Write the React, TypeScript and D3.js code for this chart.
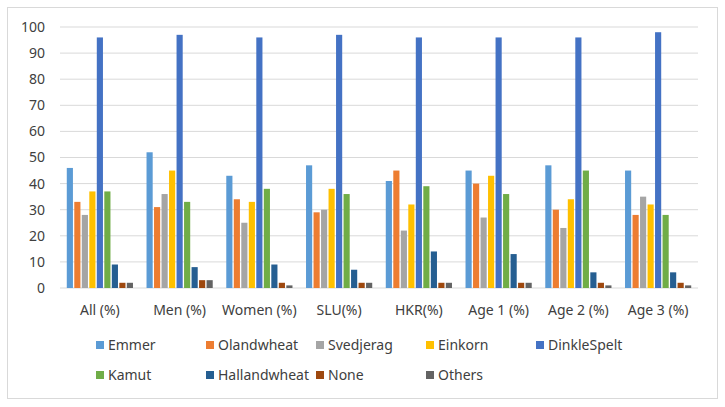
import React from "react";
import * as d3 from "d3";

const categories = ["All (%)", "Men (%)", "Women (%)", "SLU(%)", "HKR(%)", "Age 1 (%)", "Age 2 (%)", "Age 3 (%)"];
const seriesNames = ["Emmer", "Olandwheat", "Svedjerag", "Einkorn", "DinkleSpelt", "Kamut", "Hallandwheat", "None", "Others"];
const seriesColors = ["#5B9BD5", "#ED7D31", "#A5A5A5", "#FFC000", "#4472C4", "#70AD47", "#255E91", "#9E480E", "#636363"];

const emmer = [46, 52, 43, 47, 41, 45, 47, 45];
const olandwheat = [33, 31, 34, 29, 45, 40, 30, 28];
const svedjerag = [28, 36, 25, 30, 22, 27, 23, 35];
const einkorn = [37, 45, 33, 38, 32, 43, 34, 32];
const dinkleSpelt = [96, 97, 96, 97, 96, 96, 96, 98];
const kamut = [37, 33, 38, 36, 39, 36, 45, 28];
const hallandwheat = [9, 8, 9, 7, 14, 13, 6, 6];
const none = [2, 3, 2, 2, 2, 2, 2, 2];
const others = [2, 3, 1, 2, 2, 2, 1, 1];

const seriesValues = [emmer, olandwheat, svedjerag, einkorn, dinkleSpelt, kamut, hallandwheat, none, others];
const yTicks = [0, 10, 20, 30, 40, 50, 60, 70, 80, 90, 100];

const W = 725;
const H = 407;
const font = "'Noto Sans', 'Open Sans', sans-serif";

export default function App() {
  const left = 60, right = 698, top = 27, bottom = 288;

  const x = d3.scaleBand<string>().domain(categories).range([left, right]).paddingInner(0.17).paddingOuter(0.085);
  const xi = d3.scaleBand<string>().domain(seriesNames).range([0, x.bandwidth()]).paddingInner(0.18);
  const y = d3.scaleLinear().domain([0, 100]).range([bottom, top]);

  // legend grid: 5 columns, 2 rows
  const legendCols = [96, 206, 316, 426, 536];
  const legendRows = [345, 375];

  return (
    <div>
      <style>{"body{margin:0}"}</style>
      <svg width={W} height={H} style={{ display: "block", fontFamily: font }}>
        <rect x={7.5} y={7.5} width={710} height={391} fill="#fff" stroke="#d9d9d9" />
        {yTicks.map((t) => (
          <g key={t}>
            <line x1={left} x2={right} y1={y(t)} y2={y(t)} stroke="#d9d9d9" strokeWidth={1} />
            <text x={45} y={y(t)} dy="0.35em" textAnchor="end" fontSize={14} fill="#404040">
              {t}
            </text>
          </g>
        ))}
        {categories.map((c, ci) => (
          <g key={c} transform={`translate(${x(c)},0)`}>
            {seriesNames.map((s, si) => (
              <rect
                key={s}
                x={xi(s)}
                y={y(seriesValues[si][ci])}
                width={xi.bandwidth()}
                height={bottom - y(seriesValues[si][ci])}
                fill={seriesColors[si]}
              />
            ))}
            <text x={x.bandwidth() / 2} y={310} dy="0.35em" textAnchor="middle" fontSize={14} fill="#404040">
              {c}
            </text>
          </g>
        ))}
        {seriesNames.map((s, i) => {
          const lx = legendCols[i % 5];
          const ly = legendRows[Math.floor(i / 5)];
          return (
            <g key={s}>
              <rect x={lx} y={ly - 4} width={8} height={8} fill={seriesColors[i]} />
              <text x={lx + 12} y={ly} dy="0.35em" fontSize={14} fill="#404040">
                {s}
              </text>
            </g>
          );
        })}
      </svg>
    </div>
  );
}
